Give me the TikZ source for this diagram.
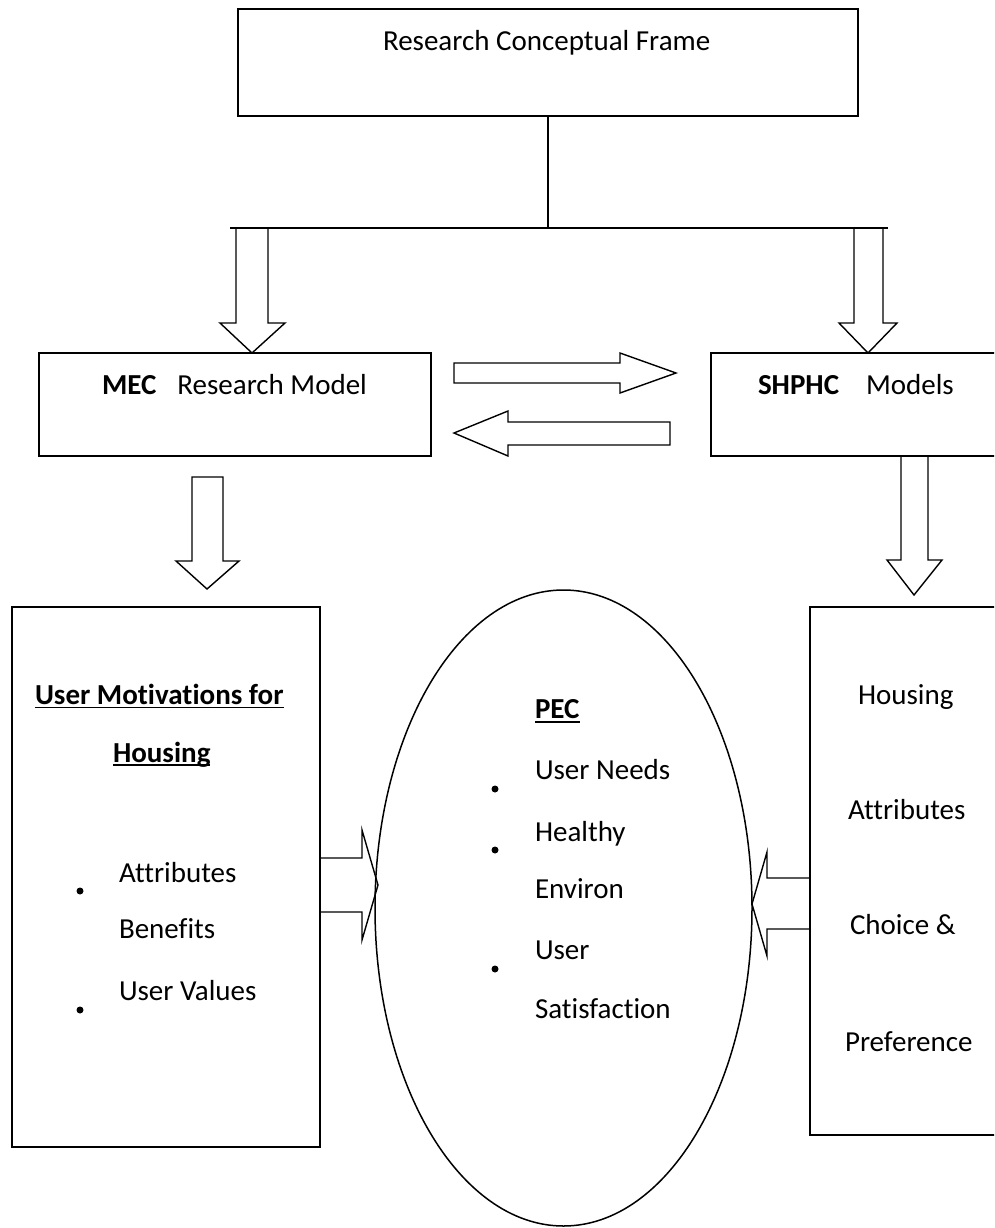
\documentclass[tikz,border=0pt]{standalone}
\usepackage{fontspec}
\setmainfont{Carlito}[Ligatures={NoCommon}]
\usetikzlibrary{shapes.geometric}
\begin{document}
\begin{tikzpicture}[x=1pt,y=-1pt,
  box/.style={draw=black, line width=1.8pt, inner sep=0pt, outer sep=0pt},
  blockarrow/.style={draw=black, line width=1.4pt, fill=white, line join=miter},
  link/.style={draw=black, line width=1.4pt},
  txt/.style={anchor=base west, inner sep=0pt, outer sep=0pt, font=\fontsize{29}{35}\selectfont},
  dot/.style={circle, fill=black, inner sep=0pt, minimum size=7pt},
  uline/.style={line width=1.6pt}]

\useasboundingbox (0,0) rectangle (994,1228);
\fill[white] (0,0) rectangle (994,1228);
\clip (0,0) rectangle (994,1228);

% block arrows (drawn first so the box and ellipse outlines stay on top)
\draw[blockarrow] (236,228) -- (236,323) -- (220,323) -- (252,353) -- (285,323) -- (268,323) -- (268,228) -- cycle;
\draw[blockarrow] (854,228) -- (854,323) -- (839,323) -- (868,353) -- (897,323) -- (883,323) -- (883,228) -- cycle;
\draw[blockarrow] (454,363) -- (620,363) -- (620,353) -- (676,373) -- (620,393) -- (620,383) -- (454,383) -- cycle;
\draw[blockarrow] (670,422) -- (508,422) -- (508,411) -- (454,433) -- (508,456) -- (508,445) -- (670,445) -- cycle;
\draw[blockarrow] (192,477) -- (223,477) -- (223,561) -- (239,561) -- (207,589) -- (176,561) -- (192,561) -- cycle;
\draw[blockarrow] (901,456) -- (901,560) -- (887,560) -- (914,595) -- (942,560) -- (928,560) -- (928,456);
\draw[blockarrow] (320,858) -- (362,858) -- (362,830) -- (378,885) -- (362,940) -- (362,912) -- (320,912);
\draw[blockarrow] (810,878) -- (767,878) -- (767,852) -- (752,904) -- (767,956) -- (767,929) -- (810,929);

% main boxes
\node[box, minimum width=620pt, minimum height=107pt] (frame) at (548,62.5) {};
\node[box, minimum width=392pt, minimum height=103pt] (mec) at (235,404.5) {};
\node[box, minimum width=300pt, minimum height=103pt] (shphc) at (861,404.5) {};
\node[box, minimum width=308pt, minimum height=540pt] (motiv) at (166,877) {};
\node[box, minimum width=200pt, minimum height=528pt] (attr) at (910,871) {};
\node[draw=black, line width=1.5pt, ellipse, inner sep=0pt, minimum width=377pt, minimum height=636pt] (pec) at (563.5,908) {};

% branching connector from the frame box
\coordinate (barL) at (230,228);
\coordinate (barR) at (888,228);
\coordinate (barM) at (548,228);
\draw[link] (frame.south) -- (barM);
\draw[link] (barL) -- (barR);

% texts
\node[txt] (t1) at (383,51) {Research Conceptual Frame};
\node[txt] (t2) at (102,394) {\textbf{MEC}\hspace{21pt}Research Model};
\node[txt] (t3) at (758,394) {\textbf{SHPHC}\hspace{27pt}Models};

\node[txt] (m1) at (35,704) {\textbf{User Motivations for}};
\node[txt] (m2) at (113,762) {\textbf{Housing}};
\draw[uline] ([yshift=-3.5pt]m1.base west) -- ([yshift=-3.5pt]m1.base east);
\draw[uline] ([yshift=-3pt]m2.base west) -- ([yshift=-3pt]m2.base east);
\node[txt] (m3) at (119,882) {Attributes};
\node[txt] (m4) at (119,938) {Benefits};
\node[txt] (m5) at (119,1000) {User Values};
\node[dot] (md1) at (80,891) {};
\node[dot] (md2) at (80,1010) {};

\node[txt] (p1) at (535,718) {\textbf{PEC}};
\draw[uline] ([yshift=-4pt]p1.base west) -- ([yshift=-4pt]p1.base east);
\node[txt] (p2) at (535,779) {User Needs};
\node[txt] (p3) at (535,841) {Healthy};
\node[txt] (p4) at (535,898) {Environ};
\node[txt] (p5) at (535,959) {User};
\node[txt] (p6) at (535,1018) {Satisfaction};
\node[dot] (pd1) at (495,789) {};
\node[dot] (pd2) at (495,850) {};
\node[dot] (pd3) at (495,969) {};

\node[txt] (r1) at (858,704) {Housing};
\node[txt] (r2) at (848,819) {Attributes};
\node[txt] (r3) at (850,934) {Choice \&};
\node[txt] (r4) at (845,1051) {Preference};
\end{tikzpicture}
\end{document}
